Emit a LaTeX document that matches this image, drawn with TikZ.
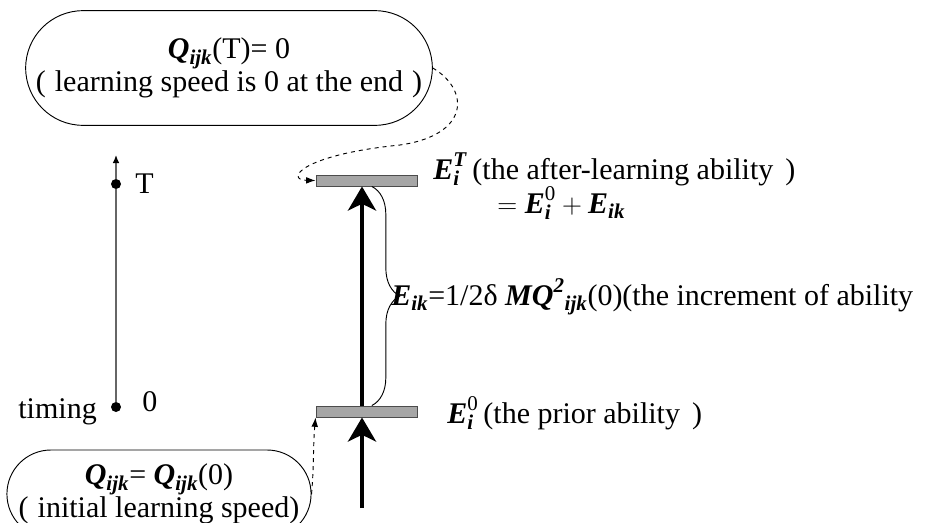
\documentclass[tikz,border=0pt]{standalone}
\usepackage{amsmath}
\usepackage{fontspec}
\setmainfont{Liberation Serif}
\usetikzlibrary{arrows.meta,decorations.pathreplacing,shapes.misc}
\newcommand{\bi}[1]{\textbf{\textit{#1}}}

\begin{document}
\begin{tikzpicture}[x=0.75pt,y=-0.75pt,
		every node/.style={font=\fontsize{22.5}{24.5}\selectfont, inner sep=0pt},
		pill/.style={draw, rounded rectangle, align=center, line width=0.7pt},
		bar/.style={draw=black!70, fill=black!35, minimum width=75.75pt, minimum height=8.25pt, line width=0.7pt},
		dot/.style={circle, fill, minimum size=7.5pt},
		big/.style={line width=3pt, -{Stealth[length=18pt,width=21pt,inset=5pt]}},
		link/.style={dashed, line width=0.7pt, -{Latex[length=7pt,width=5pt]}}]
		\useasboundingbox (0,0) rectangle (929,522);
		% goal boxes
		\node[pill, minimum width=305pt, minimum height=86pt] (endq) at (229,68) {$\bi{Q}_{\bi{ijk}}$(T)= 0\\(\hspace{0.3em}learning speed is 0 at the end\hspace{0.3em})};
		\node[pill, minimum width=223.5pt, minimum height=66pt] (startq) at (159,494) {$\bi{Q}_{\bi{ijk}}$= $\bi{Q}_{\bi{ijk}}$(0)\\(\hspace{0.3em}initial learning speed)};
		% timing axis
		\node[dot] (t0) at (116,407) {};
		\node[dot] (tT) at (116,184) {};
		\coordinate (ttop) at (116,155);
		\draw[black!60, line width=1pt] (t0) -- (tT);
		\draw[black!60, line width=1pt, -{Latex[length=6pt,width=5pt,black]}] (tT) -- (ttop);
		\node[anchor=west] (labTT) at (135,184) {T};
		\node[anchor=west] (lab00) at (142,402) {0};
		\node[anchor=base east] (timing) at (97,418) {timing};
		% ability levels
		\node[bar] (barT) at (366.5,180.5) {};
		\node[bar] (barB) at (366.5,411.5) {};
		\coordinate (src) at (362,508);
		\draw[big] (src) -- (src |- barB.south);
		\draw[big] (src |- barB.north) -- (src |- barT.south);
		\draw[decorate, decoration={brace, amplitude=21pt}, line width=0.7pt] ([xshift=4pt]barT.south) -- ([xshift=4pt]barB.north);
		\node[anchor=base west] (labT) at (433,179) {$\bi{E}_{\bi{i}}^{\bi{T}}$\,(the after-learning ability\hspace{0.4em})};
		\node[anchor=base west] (labSum) at (497,213) {$= \bi{E}_{\bi{i}}^{\textup{0}} + \bi{E}_{\bi{ik}}$};
		\node[anchor=west] (labInc) at (391,297) {$\bi{E}_{\bi{ik}}$=1/2δ $\bi{MQ}^{\bi{2}}{}_{\bi{ijk}}$(0)(the increment of ability};
		\node[anchor=base west] (lab0) at (447,423) {$\bi{E}_{\bi{i}}^{\textup{0}}$\,(the prior ability\hspace{0.4em})};
		% links
		\draw[link] (endq.east) .. controls (470,90) and (470,135) .. (400,145) .. controls (300,155) and (285,180) .. (barT.west);
		\draw[link] (startq.east) to[out=85,in=-95] (barB.south west);
	\end{tikzpicture}
\end{document}
